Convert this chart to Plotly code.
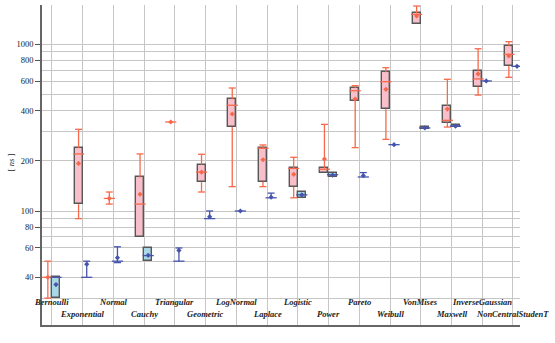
import plotly.graph_objects as go

categories = ["Bernoulli", "Exponential", "Normal", "Cauchy", "Triangular", "Geometric",
              "LogNormal", "Laplace", "Logistic", "Power", "Pareto", "Weibull",
              "VonMises", "Maxwell", "InverseGaussian", "NonCentralStudenT"]

# red series: min, q1, median, q3, max, mean
r_min  = [30, 90, 110, 70, 342, 130, 140, 140, 120, 170, 240, 269, 1324, 319, 496, 634]
r_q1   = [40, 110, 119, 70, 342, 149, 319, 150, 140, 170, 457, 408, 1324, 339, 557, 745]
r_med  = [40, 220, 119, 110, 342, 171, 431, 238, 180, 178, 527, 597, 1513, 350, 620, 871]
r_q3   = [40, 238, 119, 159, 342, 190, 468, 238, 180, 180, 545, 680, 1535, 428, 689, 973]
r_max  = [50, 309, 130, 220, 342, 219, 547, 249, 210, 331, 565, 724, 1698, 617, 941, 1037]
r_mean = [40, 193, 119, 126, 342, 171, 382, 203, 166, 205, 470, 537, 1479, 409, 664, 851]

# blue series
b_min  = [30, 40, 49, 50, 50, 90, 100, 120, 120, 159, 160, 250, 310, 318, 603, 738]
b_q1   = [30, 40, 50, 50, 50, 90, 100, 120, 120, 159, 160, 250, 310, 318, 603, 738]
b_med  = [40, 40, 50, 54, 50, 90, 100, 120, 125, 165, 160, 250, 315, 323, 603, 738]
b_q3   = [40, 40, 50, 60, 50, 90, 100, 120, 129.5, 170, 160, 250, 320, 328, 603, 738]
b_max  = [40, 50, 61, 60, 60, 100, 100, 128, 129.5, 170, 170, 250, 320, 328, 603, 738]
b_mean = [36.2, 48, 52.5, 54.2, 58, 92.5, 100, 121, 125, 164, 163, 250, 315, 323, 603, 738]

y_ticks = [40, 60, 80, 100, 200, 400, 600, 800, 1000]
y_minor = [30, 50, 70, 90, 300, 500, 700, 900]

RED = "#F7694A"
RED_FILL = "#F8BFCB"
BLUE = "#4654AE"
BLUE_FILL = "#A9D8E6"
OUTLINE = "#575757"
GRID = "#C6C6C6"
BW = 0.26

fig = go.Figure()


def add_series(off, q1, q3, fill):
    xs = [i + off for i in range(len(categories))]
    bx, bbase, bh = [], [], []
    for x, a, b in zip(xs, q1, q3):
        if b > a:
            bx.append(x); bbase.append(a); bh.append(b - a)
    fig.add_trace(go.Bar(x=bx, y=bh, base=bbase, width=BW, marker=dict(color=fill,
                         line=dict(color=OUTLINE, width=1.4)), showlegend=False,
                         hoverinfo="skip"))
    return xs


xs_r = add_series(-0.135, r_q1, r_q3, RED_FILL)
xs_b = add_series(0.13, b_q1, b_q3, BLUE_FILL)


def add_marks(xs, mn, q1, med, q3, mx, mean, color):
    wx, wy, cx, cy = [], [], [], []
    for x, a, lo, hi, b in zip(xs, mn, q1, q3, mx):
        if b > hi:
            wx += [x, x, None]; wy += [hi, b, None]
            cx.append(x); cy.append(b)
        if a < lo:
            wx += [x, x, None]; wy += [a, lo, None]
            cx.append(x); cy.append(a)
    fig.add_trace(go.Scatter(x=wx, y=wy, mode="lines", line=dict(color=color, width=1.3),
                             showlegend=False, hoverinfo="skip"))
    fig.add_trace(go.Scatter(x=cx, y=cy, mode="markers",
                             marker=dict(symbol="line-ew", size=5,
                                         line=dict(color=color, width=1.3)),
                             showlegend=False, hoverinfo="skip"))
    fig.add_trace(go.Scatter(x=xs, y=med, mode="markers",
                             marker=dict(symbol="line-ew", size=8,
                                         line=dict(color=color, width=1.3)),
                             showlegend=False, hoverinfo="skip"))
    fig.add_trace(go.Scatter(x=xs, y=mean, mode="markers",
                             marker=dict(symbol="diamond", size=4, color=color),
                             showlegend=False, hoverinfo="skip"))


add_marks(xs_r, r_min, r_q1, r_med, r_q3, r_max, r_mean, RED)
add_marks(xs_b, b_min, b_q1, b_med, b_q3, b_max, b_mean, BLUE)

annotations = []
for i, name in enumerate(categories):
    annotations.append(dict(x=i, y=0.073 if i % 2 == 0 else 0.035, xref="x", yref="paper",
                            text="<b><i>" + name + "</i></b>", showarrow=False,
                            xanchor="center", yanchor="middle",
                            font=dict(family="Liberation Serif", size=8.5, color="#222")))
annotations.append(dict(x=-0.066, y=0.51, xref="paper", yref="paper", text="[ <i>ns</i> ]",
                        showarrow=False, textangle=-90, xanchor="center", yanchor="middle",
                        font=dict(family="Liberation Serif", size=8.5, color="#222")))

fig.update_layout(
    width=555, height=343,
    margin=dict(l=42, r=35, t=5, b=18),
    plot_bgcolor="white", paper_bgcolor="white",
    barmode="overlay", bargap=0,
    showlegend=False,
    annotations=annotations,
    xaxis=dict(range=[-0.325, 15.228], tickvals=list(range(len(categories))),
               showticklabels=False, ticks="", showgrid=True, gridcolor=GRID,
               gridwidth=1.3, zeroline=False, showline=True, linecolor="#666666",
               linewidth=1.6),
    yaxis=dict(type="log", range=[1.316, 3.236], tickvals=y_ticks,
               ticktext=[str(v) for v in y_ticks], ticks="outside", ticklen=5,
               tickcolor="#555", tickwidth=1, showgrid=True, gridcolor=GRID,
               gridwidth=1.3, zeroline=False, showline=True, linecolor="#666666",
               linewidth=1.6,
               tickfont=dict(family="Liberation Serif", size=8.5, color="#222"),
               minor=dict(tickvals=y_minor, showgrid=True, gridcolor=GRID,
                          gridwidth=1.3, ticklen=0)),
)

fig.write_html("out.html")
